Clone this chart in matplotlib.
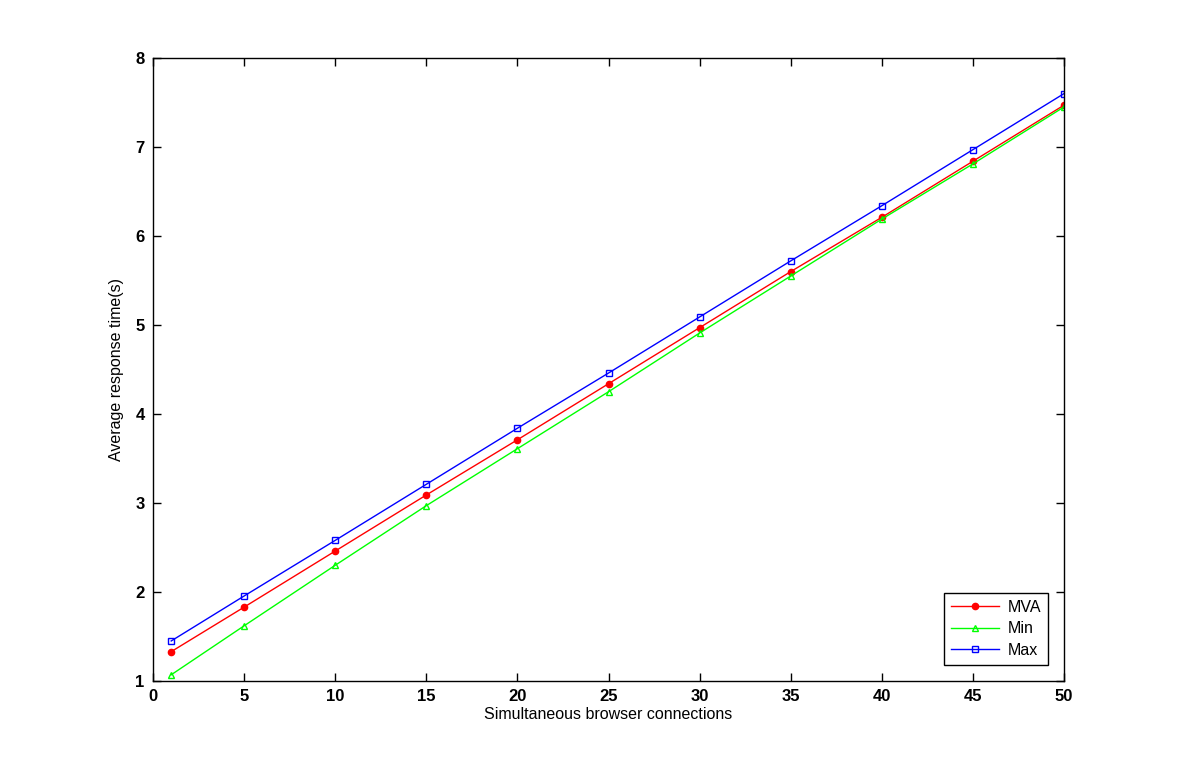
import matplotlib
matplotlib.use("Agg")
import matplotlib.pyplot as plt

# connections vs average response time (s)
connections = [1, 5, 10, 15, 20, 25, 30, 35, 40, 45, 50]
mva = [1.33, 1.83, 2.46, 3.09, 3.71, 4.34, 4.97, 5.60, 6.21, 6.84, 7.47]
min_vals = [1.07, 1.62, 2.30, 2.97, 3.61, 4.25, 4.91, 5.55, 6.19, 6.81, 7.45]
max_vals = [1.45, 1.955, 2.58, 3.21, 3.84, 4.46, 5.09, 5.72, 6.34, 6.97, 7.60]

xticks = [0, 5, 10, 15, 20, 25, 30, 35, 40, 45, 50]
yticks = [1, 2, 3, 4, 5, 6, 7, 8]

plt.rcParams['font.family'] = ['Liberation Sans', 'DejaVu Sans']

fig = plt.figure(figsize=(11.77, 7.68), dpi=100)
ax = fig.add_axes([153 / 1177, 1 - 681 / 768, (1064 - 153) / 1177, (681 - 58) / 768])

ax.plot(connections, mva, color='red', lw=1, marker='o', ms=4.5, mfc='red', mec='red', label='MVA')
ax.plot(connections, min_vals, color='#00ff00', lw=1, marker='^', ms=4, mfc='none', mec='#00ff00', label='Min')
ax.plot(connections, max_vals, color='blue', lw=1, marker='s', ms=5, mfc='none', mec='blue', label='Max')

ax.set_xlim(0, 50)
ax.set_ylim(1, 8)
ax.set_xticks(xticks)
ax.set_yticks(yticks)
ax.tick_params(direction='in', top=True, right=True, length=6, width=1, labelsize=12, pad=6)
for lbl in ax.get_xticklabels() + ax.get_yticklabels():
    lbl.set_fontweight('bold')
for sp in ax.spines.values():
    sp.set_linewidth(1)

ax.set_xlabel('Simultaneous browser connections', fontsize=11.5, labelpad=2)
ax.set_ylabel('Average response time(s)', fontsize=11.5, labelpad=8)

leg = ax.legend(loc='lower right', fontsize=11.5, fancybox=False, edgecolor='black',
                framealpha=1, borderaxespad=1.0, handlelength=3.0, handletextpad=0.5,
                labelspacing=0.4, borderpad=0.45)
leg.get_frame().set_linewidth(1)

fig.savefig('out.png', dpi=100)
